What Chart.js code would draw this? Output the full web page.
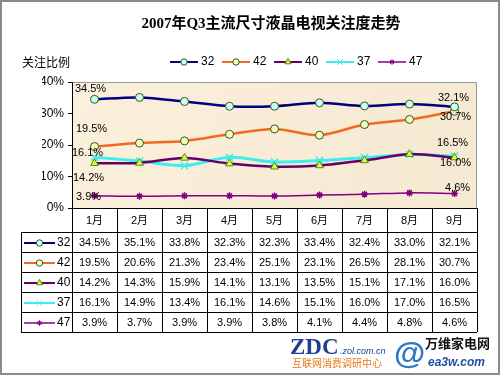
<!DOCTYPE html>
<html>
<head>
<meta charset="utf-8">
<script src="https://cdn.jsdelivr.net/npm/chart.js@4"></script>
<style>
  html, body { margin: 0; padding: 0; background: #fff; }
  #wrap { width: 500px; height: 375px; position: relative; }
</style>
</head>
<body>
<div id="wrap"><canvas id="grafico" width="500" height="375"></canvas></div>
<script>
// data
const meses = ['1月', '2月', '3月', '4月', '5月', '6月', '7月', '8月', '9月'];
const serie32 = [34.5, 35.1, 33.8, 32.3, 32.3, 33.4, 32.4, 33.0, 32.1];
const serie42 = [19.5, 20.6, 21.3, 23.4, 25.1, 23.1, 26.5, 28.1, 30.7];
const serie40 = [14.2, 14.3, 15.9, 14.1, 13.1, 13.5, 15.1, 17.1, 16.0];
const serie37 = [16.1, 14.9, 13.4, 16.1, 14.6, 15.1, 16.0, 17.0, 16.5];
const serie47 = [3.9, 3.7, 3.9, 3.9, 3.8, 4.1, 4.4, 4.8, 4.6];
const nombres = ['32', '42', '40', '37', '47'];
const yTicks = [0, 10, 20, 30, 40];

const FONT = '"Liberation Sans", "Noto Sans CJK SC", sans-serif';

// offsets for the first / last value labels (dx, dy)
const etiquetas = [
    { first: [-4, -10], last: [-1, -9] },
    { first: [-3, -18], last: [1, 6] },
    { first: [-6, 15], last: [1, 5] },
    { first: [-7, -4], last: [-2, -13] },
    { first: [-6, 1], last: [3, -6] }
];

const fondoPlot = {
    id: 'fondoPlot',
    beforeDraw(chart) {
        const { ctx, chartArea: a } = chart;
        ctx.save();
        const g = ctx.createLinearGradient(a.left, a.top, a.right, a.bottom);
        g.addColorStop(0, '#fbf0dc');
        g.addColorStop(0.5, '#f8ecd6');
        g.addColorStop(1, '#f6e9d2');
        ctx.fillStyle = g;
        ctx.fillRect(a.left, a.top, a.right - a.left, a.bottom - a.top);
        ctx.strokeStyle = '#999';
        ctx.lineWidth = 1;
        ctx.beginPath();
        ctx.moveTo(a.left, a.top + 0.5);
        ctx.lineTo(a.right - 0.5, a.top + 0.5);
        ctx.lineTo(a.right - 0.5, a.bottom);
        ctx.stroke();
        ctx.restore();
    }
};

// small line + marker sample used in the legend and the table
function muestra(ctx, ds, x1, x2, y) {
    ctx.save();
    ctx.strokeStyle = ds.borderColor;
    ctx.lineWidth = Math.min(ds.borderWidth, 2);
    ctx.beginPath();
    ctx.moveTo(x1, y);
    ctx.lineTo(x2, y);
    ctx.stroke();
    ctx.fillStyle = ds.pointBackgroundColor;
    ctx.strokeStyle = ds.pointBorderColor;
    ctx.lineWidth = 1;
    Chart.helpers.drawPoint(ctx, {
        pointStyle: ds.pointStyle,
        radius: ds.pointRadius * 0.8,
        borderWidth: 1
    }, (x1 + x2) / 2, y);
    ctx.restore();
}

const extras = {
    id: 'extras',
    afterDraw(chart) {
        const { ctx, chartArea: a } = chart;
        const xs = chart.scales.x;
        const ys = chart.scales.y;
        ctx.save();

        // value labels at first and last points
        ctx.fillStyle = '#000';
        ctx.font = '11px ' + FONT;
        ctx.textAlign = 'center';
        ctx.textBaseline = 'middle';
        chart.data.datasets.forEach((ds, i) => {
            const n = ds.data.length - 1;
            const e = etiquetas[i];
            ctx.fillText(ds.data[0].toFixed(1) + '%', xs.getPixelForValue(0) + e.first[0], ys.getPixelForValue(ds.data[0]) + e.first[1]);
            ctx.fillText(ds.data[n].toFixed(1) + '%', xs.getPixelForValue(n) + e.last[0], ys.getPixelForValue(ds.data[n]) + e.last[1]);
        });

        // title
        ctx.font = 'bold 15px "Liberation Serif", "Noto Sans CJK SC", serif';
        ctx.fillText('2007年Q3主流尺寸液晶电视关注度走势', 271, 24);

        // axis title
        ctx.font = '12px "Noto Sans CJK SC", sans-serif';
        ctx.textAlign = 'left';
        ctx.fillText('关注比例', 22, 62);

        // legend
        const legX = [170, 222, 274, 326, 378];
        ctx.font = '12px ' + FONT;
        chart.data.datasets.forEach((ds, i) => {
            muestra(ctx, ds, legX[i], legX[i] + 28, 62);
            ctx.fillStyle = '#000';
            ctx.textAlign = 'left';
            ctx.fillText(ds.label, legX[i] + 31, 62);
        });

        // data table
        const w = xs.getPixelForValue(1) - xs.getPixelForValue(0);
        const headTop = a.bottom;
        const rowTop = 232;
        const rowH = 20;
        const tabLeft = 21;
        const nRows = chart.data.datasets.length;
        ctx.strokeStyle = '#000';
        ctx.lineWidth = 1;
        ctx.beginPath();
        ctx.moveTo(a.left, headTop + 0.5);
        ctx.lineTo(a.right, headTop + 0.5);
        for (let r = 0; r <= nRows; r++) {
            const y = rowTop + r * rowH + 0.5;
            ctx.moveTo(tabLeft, y);
            ctx.lineTo(a.right, y);
        }
        ctx.moveTo(tabLeft + 0.5, rowTop);
        ctx.lineTo(tabLeft + 0.5, rowTop + nRows * rowH);
        for (let c = 0; c <= meses.length; c++) {
            const x = Math.round(xs.getPixelForValue(c) - w / 2) + 0.5;
            ctx.moveTo(x, headTop);
            ctx.lineTo(x, rowTop + nRows * rowH);
        }
        ctx.stroke();

        ctx.fillStyle = '#000';
        ctx.textAlign = 'center';
        ctx.font = '11px ' + FONT;
        meses.forEach((m, c) => ctx.fillText(m, xs.getPixelForValue(c), (headTop + rowTop) / 2 + 1));
        chart.data.datasets.forEach((ds, r) => {
            const yc = rowTop + r * rowH + rowH / 2 + 1;
            muestra(ctx, ds, 24, 55, yc);
            ctx.fillStyle = '#000';
            ctx.textAlign = 'left';
            ctx.font = '12px ' + FONT;
            ctx.fillText(nombres[r], 57, yc);
            ctx.textAlign = 'center';
            ctx.font = '11px ' + FONT;
            ds.data.forEach((v, c) => ctx.fillText(v.toFixed(1) + '%', xs.getPixelForValue(c), yc));
        });

        // logos
        ctx.textAlign = 'left';
        ctx.textBaseline = 'alphabetic';
        ctx.fillStyle = '#1f3f8f';
        ctx.font = 'bold 23px "Liberation Serif", serif';
        ctx.fillText('ZDC', 290, 354);
        ctx.font = 'italic 9px ' + FONT;
        ctx.fillText('.zol.com.cn', 340, 354);
        ctx.fillStyle = '#e87a1a';
        ctx.font = '10px "Noto Sans CJK SC", sans-serif';
        ctx.fillText('互联网消费调研中心', 292, 367);
        ctx.fillStyle = '#2a78c8';
        ctx.font = 'bold 32px ' + FONT;
        ctx.fillText('@', 394, 364);
        ctx.fillStyle = '#111';
        ctx.font = 'bold 13px "Noto Sans CJK SC", sans-serif';
        ctx.fillText('万维家电网', 425, 348);
        ctx.fillStyle = '#1f4f9f';
        ctx.font = 'italic bold 12px ' + FONT;
        ctx.fillText('ea3w.com', 428, 366);

        // outer frame
        ctx.strokeStyle = '#8a8a8a';
        ctx.lineWidth = 2;
        ctx.strokeRect(1, 1, 498, 373);
        ctx.restore();
    }
};

const ctx = document.getElementById('grafico').getContext('2d');
new Chart(ctx, {
    type: 'line',
    data: {
        labels: meses,
        datasets: [
            { label: nombres[0], data: serie32, borderColor: '#000080', borderWidth: 2.5, pointStyle: 'circle', pointRadius: 4, pointBackgroundColor: '#ccffee', pointBorderColor: '#335522', pointBorderWidth: 1 },
            { label: nombres[1], data: serie42, borderColor: '#f26b1d', borderWidth: 2.5, pointStyle: 'circle', pointRadius: 4, pointBackgroundColor: '#f0ffc0', pointBorderColor: '#335522', pointBorderWidth: 1 },
            { label: nombres[2], data: serie40, borderColor: '#660066', borderWidth: 2.5, pointStyle: 'triangle', pointRadius: 4.5, pointBackgroundColor: '#ccff55', pointBorderColor: '#668800', pointBorderWidth: 1 },
            { label: nombres[3], data: serie37, borderColor: '#40ecec', borderWidth: 3, pointStyle: 'crossRot', pointRadius: 5, pointBackgroundColor: '#40ecec', pointBorderColor: '#40ecec', pointBorderWidth: 1.5 },
            { label: nombres[4], data: serie47, borderColor: '#800080', borderWidth: 1.5, pointStyle: 'star', pointRadius: 3.5, pointBackgroundColor: '#800080', pointBorderColor: '#800080', pointBorderWidth: 1.5 }
        ]
    },
    options: {
        responsive: false,
        animation: false,
        layout: { padding: { left: 42, right: 23, top: 82, bottom: 167 } },
        plugins: {
            legend: { display: false },
            title: { display: false },
            tooltip: { enabled: false }
        },
        elements: { line: { tension: 0.3, fill: false } },
        scales: {
            x: { display: false, offset: true },
            y: {
                min: 0,
                max: 40,
                afterFit(s) { s.width = 30; },
                afterBuildTicks(s) { s.ticks = yTicks.map(v => ({ value: v })); },
                ticks: {
                    callback: v => v + '%',
                    color: '#000',
                    font: { family: FONT, size: 12 },
                    padding: 4
                },
                grid: { drawOnChartArea: false, drawTicks: true, tickLength: 4, color: '#000' },
                border: { display: true, color: '#000', width: 1 }
            }
        }
    },
    plugins: [fondoPlot, extras]
});
</script>
</body>
</html>
